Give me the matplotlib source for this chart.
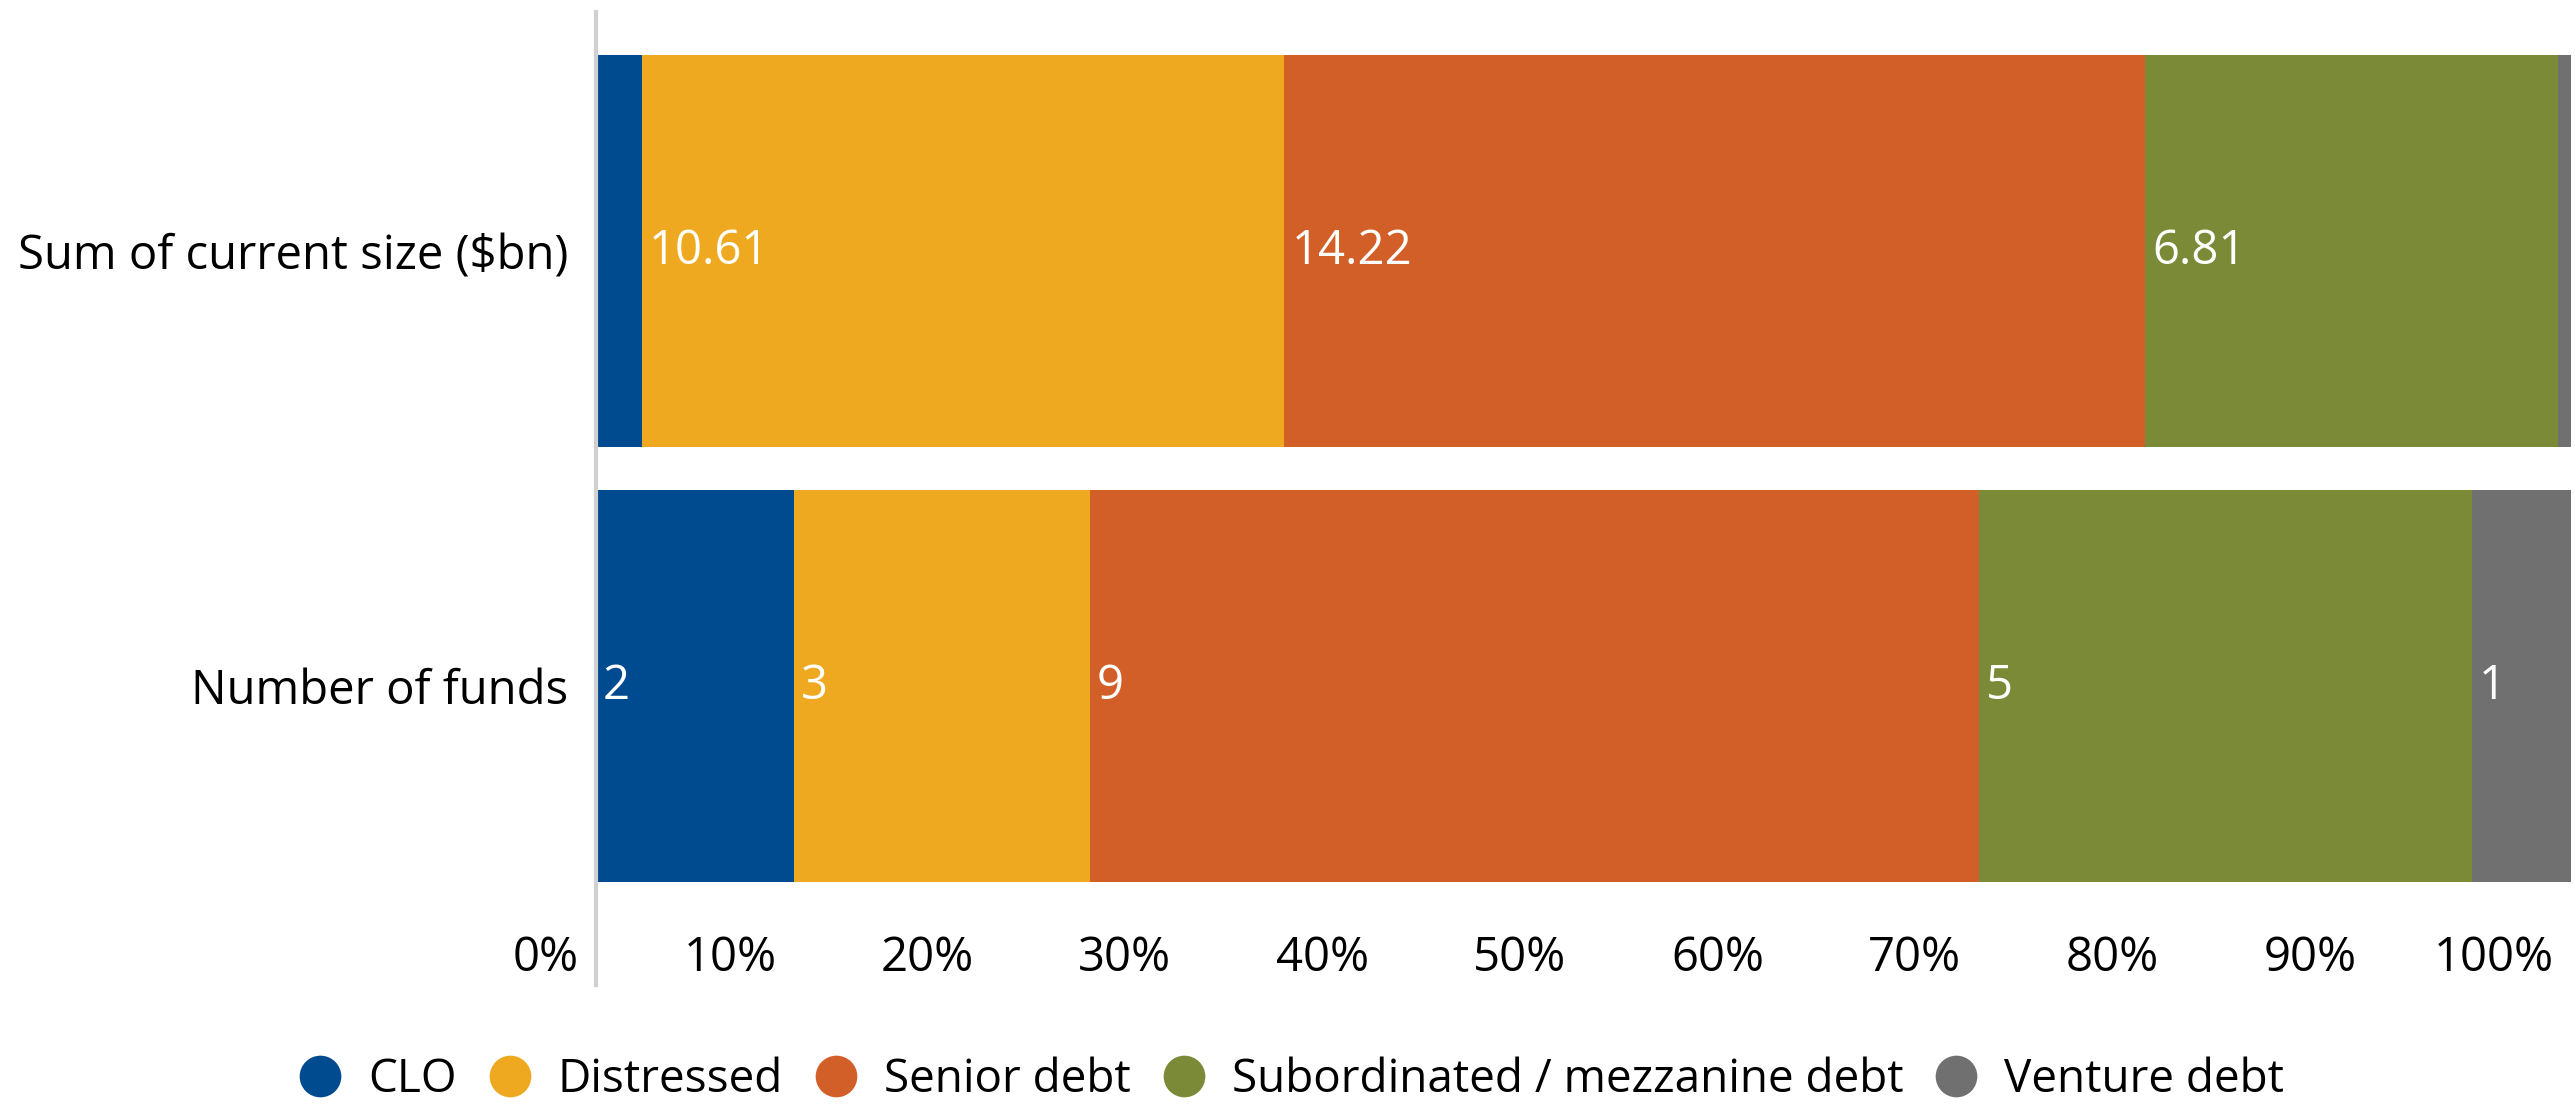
import matplotlib
matplotlib.use("Agg")
import matplotlib.pyplot as plt
import matplotlib.transforms as mtransforms
from matplotlib.lines import Line2D
import numpy as np

plt.rcParams['font.family'] = ['Open Sans', 'DejaVu Sans']

rows = ["Number of funds", "Sum of current size ($bn)"]
categories = ["CLO", "Distressed", "Senior debt", "Subordinated / mezzanine debt", "Venture debt"]
colors = ["#004A8F", "#EEA920", "#D35F28", "#7A8A37", "#707070"]

size_values = [0.76, 10.61, 14.22, 6.81, 0.22]
fund_values = [2, 3, 9, 5, 1]
size_labels = [None, "10.61", "14.22", "6.81", None]
fund_labels = ["2", "3", "9", "5", "1"]
tick_labels = ["0%", "10%", "20%", "30%", "40%", "50%", "60%", "70%", "80%", "90%", "100%"]

FS = 34

fig = plt.figure(figsize=(25.75, 11.07), dpi=100)
ax = fig.add_axes([596/2575, 1-985/1107, (2571-596)/2575, (985-12)/1107])

data = [fund_values, size_values]
labels = [fund_labels, size_labels]
ypos = [0, 1]
for r in range(2):
    vals = np.array(data[r], dtype=float)
    pct = vals / vals.sum() * 100
    left = 0.0
    for i, p in enumerate(pct):
        ax.barh(ypos[r], p, left=left, height=0.9, color=colors[i], edgecolor='none')
        lab = labels[r][i]
        if lab is not None:
            ax.annotate(lab, xy=(left, ypos[r]), xytext=(5, 0), textcoords='offset points',
                        ha='left', va='center', color='white', fontsize=FS)
        left += p

ax.set_xlim(0, 100)
ax.set_ylim(-0.687, 1.549)
ax.set_yticks(ypos)
ax.set_yticklabels(rows, fontsize=FS)
ax.tick_params(axis='y', length=0, pad=20)
ax.set_xticks([])

trans = ax.get_xaxis_transform() + mtransforms.ScaledTranslation(-0.17, 0, fig.dpi_scale_trans)
ylab = (1-958/1107 - (1-985/1107)) / ((985-12)/1107)
for k, t in enumerate(tick_labels):
    ax.text(k * 10, ylab, t, transform=trans,
            ha='right', va='center', fontsize=FS, color='#000000')

for s in ['top', 'right', 'bottom']:
    ax.spines[s].set_visible(False)
ax.spines['left'].set_color('#D0D0D0')
ax.spines['left'].set_linewidth(3)

handles = [Line2D([], [], marker='o', linestyle='none', markersize=30, markerfacecolor=c,
                  markeredgecolor='none') for c in colors]
fig.legend(handles, categories, loc='center', bbox_to_anchor=(1292/2575, 1-1080/1107),
           ncol=5, frameon=False, fontsize=33, handlelength=0.9, handletextpad=0.6,
           columnspacing=0.7, borderaxespad=0)

fig.savefig("out.png", dpi=100)
